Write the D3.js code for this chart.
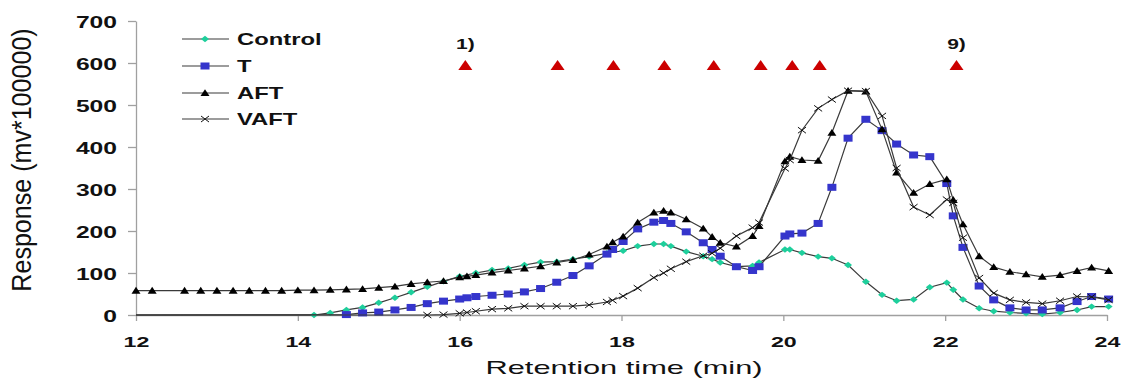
<!DOCTYPE html>
<html>
<head>
<meta charset="utf-8">
<script src="https://cdn.jsdelivr.net/npm/d3@7"></script>
<style>
  html, body { margin: 0; padding: 0; background: #fff; }
  svg { display: block; }
  text { font-family: "Liberation Sans", Arial, sans-serif; }
</style>
</head>
<body>
<svg id="chart" width="1122" height="379"></svg>
<script>
// ---------------- DATA ----------------
const yTicks = [0, 100, 200, 300, 400, 500, 600, 700];
const xTicks = [12, 14, 16, 18, 20, 22, 24];
const seriesNames = ["Control", "T", "AFT", "VAFT"];

const controlTimes = [14.2, 14.4, 14.6, 14.8, 15.0, 15.2, 15.4, 15.6, 15.8, 16.0, 16.2, 16.4, 16.6, 16.8,
  17.0, 17.2, 17.4, 17.6, 17.82, 18.02, 18.2, 18.4, 18.52, 18.61, 18.8, 19.01, 19.12, 19.22, 19.42, 19.62, 19.7,
  20.02, 20.08, 20.23, 20.43, 20.6, 20.8, 21.02, 21.22, 21.4, 21.61, 21.81, 22.02, 22.1, 22.22, 22.42,
  22.6, 22.8, 23.0, 23.2, 23.42, 23.63, 23.81, 24.02];
const controlValues = [0, 5, 12, 18, 29, 41, 54, 67, 80, 92, 100, 107, 111, 119,
  126, 127, 133, 139, 147, 153, 164, 169, 169, 164, 151, 140, 133, 125, 115, 117, 125,
  156, 156, 148, 139, 135, 119, 79, 48, 34, 37, 66, 77, 60, 37, 16,
  9, 6, 4, 2, 6, 12, 20, 20];

const tTimes = [14.6, 14.8, 15.0, 15.2, 15.4, 15.6, 15.8, 16.0, 16.09, 16.2, 16.4, 16.6, 16.8,
  17.0, 17.2, 17.4, 17.6, 17.82, 17.89, 18.02, 18.2, 18.4, 18.52, 18.61, 18.8, 19.01, 19.12, 19.22, 19.42, 19.62, 19.7,
  20.02, 20.08, 20.23, 20.43, 20.6, 20.8, 21.02, 21.22, 21.4, 21.61, 21.81, 22.02, 22.1, 22.22, 22.42,
  22.6, 22.8, 23.0, 23.2, 23.42, 23.63, 23.81, 24.02];
const tValues = [1, 5, 7, 12, 18, 27, 33, 38, 41, 44, 47, 50, 55,
  63, 78, 94, 117, 145, 156, 175, 205, 221, 225, 218, 198, 172, 156, 140, 115, 106, 115,
  188, 193, 195, 218, 304, 421, 466, 439, 407, 381, 377, 313, 236, 161, 69,
  36, 17, 12, 12, 17, 32, 44, 38];

const aftTimes = [12.0, 12.2, 12.6, 12.8, 13.0, 13.2, 13.4, 13.6, 13.8, 14.0, 14.2, 14.4, 14.6, 14.8,
  15.0, 15.2, 15.4, 15.6, 15.8, 16.0, 16.09, 16.2, 16.4, 16.6, 16.8,
  17.0, 17.2, 17.4, 17.6, 17.82, 17.89, 18.02, 18.2, 18.4, 18.52, 18.61, 18.8, 19.01, 19.12, 19.22, 19.42, 19.62, 19.7,
  20.02, 20.08, 20.23, 20.43, 20.6, 20.8, 21.02, 21.22, 21.4, 21.61, 21.81, 22.02, 22.1, 22.22, 22.42,
  22.6, 22.8, 23.0, 23.2, 23.42, 23.63, 23.81, 24.02];
const aftValues = [58, 58, 58, 58, 58, 58, 58, 58, 58, 59, 59, 60, 61, 62,
  65, 68, 74, 78, 81, 90, 92, 95, 101, 106, 111,
  116, 125, 131, 144, 163, 173, 187, 220, 244, 248, 244, 228, 206, 186, 172, 163, 188, 212,
  366, 377, 369, 367, 434, 534, 532, 442, 339, 291, 312, 323, 274, 216, 140,
  114, 103, 97, 91, 95, 105, 113, 105];

const vaftTimes = [15.6, 15.8, 16.0, 16.09, 16.2, 16.4, 16.6, 16.8,
  17.0, 17.2, 17.4, 17.6, 17.82, 17.89, 18.02, 18.2, 18.4, 18.52, 18.61, 18.8, 19.01, 19.12, 19.22, 19.42, 19.62, 19.7,
  20.02, 20.08, 20.23, 20.43, 20.6, 20.8, 21.02, 21.22, 21.4, 21.61, 21.81, 22.02, 22.1, 22.22, 22.42,
  22.6, 22.8, 23.0, 23.2, 23.42, 23.63, 23.81, 24.02];
const vaftValues = [0, 1, 4, 6, 9, 14, 16, 21,
  21, 21, 21, 24, 31, 35, 45, 64, 89, 100, 110, 127, 141, 147, 159, 188, 208, 220,
  349, 369, 440, 492, 513, 534, 533, 474, 350, 257, 238, 275, 267, 184, 88,
  52, 36, 30, 27, 34, 44, 43, 36];

// fraction markers (red triangles) and labels
const fractionTimes = [16.07, 17.21, 17.9, 18.53, 19.14, 19.72, 20.11, 20.45, 22.14];
const fractionLevel = 600;
const fractionLabels = [{ idx: 0, text: "1)" }, { idx: 8, text: "9)" }];
const baselineStart = 12; // series drawn along zero from here until their first sample

// ---------------- CHART ----------------
const svg = d3.select("#chart");
const x = d3.scaleLinear().domain([12, 24]).range([136, 1107]);
const y = d3.scaleLinear().domain([0, 700]).range([315, 21]);

const axisColor = "#a0a0a0";

// y axis
const gy = svg.append("g").attr("transform", "translate(136,0)")
  .call(d3.axisLeft(y).tickValues(yTicks).tickSize(8).tickSizeOuter(0).tickPadding(0));
gy.select(".domain").attr("stroke", axisColor).attr("stroke-width", 1.3);
gy.selectAll(".tick line").attr("stroke", axisColor).attr("stroke-width", 1.3);
gy.selectAll(".tick text")
  .attr("x", 0).attr("dy", null)
  .attr("transform", "translate(-19,6) scale(1.45,1)")
  .attr("text-anchor", "end")
  .style("font-size", "17px").style("font-weight", "bold").attr("fill", "#111");

// x axis
const gx = svg.append("g").attr("transform", "translate(0,315)")
  .call(d3.axisBottom(x).tickValues(xTicks).tickSize(6).tickSizeOuter(0).tickFormat(d3.format("d")));
gx.select(".domain").attr("stroke", axisColor).attr("stroke-width", 1.3);
gx.selectAll(".tick line").attr("stroke", axisColor).attr("stroke-width", 1.3);
gx.selectAll(".tick text")
  .attr("y", 0).attr("dy", null)
  .attr("transform", "translate(0,32) scale(1.6,1)")
  .attr("text-anchor", "middle")
  .style("font-size", "14.5px").style("font-weight", "bold").attr("fill", "#111");

// axis titles
svg.append("text")
  .attr("transform", "translate(624,374) scale(1.62,1)")
  .attr("text-anchor", "middle")
  .style("font-size", "19px").attr("fill", "#111")
  .text("Retention time (min)");
svg.append("text")
  .attr("transform", "translate(31,160) rotate(-90) scale(1.32,1.5)")
  .attr("text-anchor", "middle")
  .style("font-size", "19px").attr("fill", "#111")
  .text("Response (mv*100000)");

// marker shapes
function drawMarker(g, type) {
  if (type === "diamond") {
    g.append("path").attr("d", "M0,-3.2L4,0L0,3.2L-4,0Z").attr("fill", "#1ecf9c");
  } else if (type === "square") {
    g.append("rect").attr("x", -4.5).attr("y", -3.5).attr("width", 9).attr("height", 7).attr("fill", "#3535cc");
  } else if (type === "triangle") {
    g.append("path").attr("d", "M0,-3.8L4.5,3L-4.5,3Z").attr("fill", "#000");
  } else if (type === "cross") {
    g.append("path").attr("d", "M-4,-3L4,3M-4,3L4,-3").attr("stroke", "#111").attr("stroke-width", 1).attr("fill", "none");
  }
}

const series = [
  { name: seriesNames[0], times: controlTimes, values: controlValues, marker: "diamond", lead: true },
  { name: seriesNames[1], times: tTimes, values: tValues, marker: "square", lead: true },
  { name: seriesNames[2], times: aftTimes, values: aftValues, marker: "triangle", lead: false },
  { name: seriesNames[3], times: vaftTimes, values: vaftValues, marker: "cross", lead: true }
];

const line = d3.line().x(d => x(d.t)).y(d => y(d.v));
const lineColor = "#3a3a3a";

series.forEach(s => {
  const pts = s.times.map((t, i) => ({ t, v: s.values[i] }));
  const linePts = s.lead ? [{ t: baselineStart, v: 0 }].concat(pts) : pts;
  const g = svg.append("g");
  g.append("path").datum(linePts).attr("d", line)
    .attr("fill", "none").attr("stroke", lineColor).attr("stroke-width", 1.2);
  pts.forEach(p => {
    const m = g.append("g").attr("transform", `translate(${x(p.t)},${y(p.v)})`);
    drawMarker(m, s.marker);
  });
});

// fraction triangles
fractionTimes.forEach(t => {
  svg.append("path")
    .attr("transform", `translate(${x(t)},${y(fractionLevel) + 2})`)
    .attr("d", "M0,-5L7,5L-7,5Z").attr("fill", "#cc0000");
});
fractionLabels.forEach(l => {
  svg.append("text")
    .attr("transform", `translate(${x(fractionTimes[l.idx])},49) scale(1.5,1)`)
    .attr("text-anchor", "middle")
    .style("font-size", "14px").style("font-weight", "bold").attr("fill", "#111")
    .text(l.text);
});

// legend
const legendRows = [39, 66, 93, 119];
series.forEach((s, i) => {
  const g = svg.append("g").attr("transform", `translate(0,${legendRows[i]})`);
  g.append("line").attr("x1", 182).attr("x2", 229).attr("y1", 0).attr("y2", 0)
    .attr("stroke", lineColor).attr("stroke-width", 1.2);
  const m = g.append("g").attr("transform", "translate(205,0)");
  drawMarker(m, s.marker);
  g.append("text")
    .attr("transform", "translate(237,5.5) scale(1.4,1)")
    .style("font-size", "17px").style("font-weight", "bold").attr("fill", "#111")
    .text(s.name);
});
</script>
</body>
</html>
